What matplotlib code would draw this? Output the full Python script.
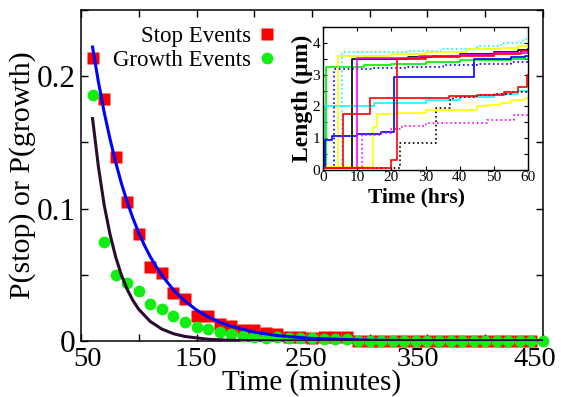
import matplotlib
matplotlib.use("Agg")
import matplotlib.pyplot as plt
from matplotlib.ticker import MultipleLocator, FixedLocator
from matplotlib.transforms import ScaledTranslation

plt.rcParams['font.family'] = ['Liberation Serif', 'DejaVu Serif']

# main panel: event probabilities, sampled every 10 minutes
stop_t = [60, 70, 80, 90, 100, 110, 120, 130, 140, 150, 160, 170, 180, 190, 200,
          210, 220, 230, 240, 250, 260, 270, 280, 290, 300, 310, 320, 330, 340,
          350, 360, 370, 380, 390, 400, 410, 420, 430, 440]
stop_p = [0.214, 0.183, 0.139, 0.105, 0.081, 0.056, 0.051, 0.036, 0.032, 0.019,
          0.019, 0.013, 0.011, 0.008, 0.008, 0.006, 0.005, 0.003, 0.003, 0.002,
          0.003, 0.003, 0.003, 0, 0, 0, 0, 0, 0, 0, 0, 0, 0, 0, 0, 0, 0, 0, 0]

grow_t = [60, 70, 80, 90, 100, 110, 120, 130, 140, 150, 160, 170, 180, 190, 200,
          210, 220, 230, 240, 250, 260, 270, 280, 290, 300, 310, 320, 330, 340,
          350, 360, 370, 380, 390, 400, 410, 420, 430, 440, 450]
grow_p = [0.186, 0.075, 0.050, 0.0435, 0.038, 0.028, 0.024, 0.019, 0.0146, 0.0103,
          0.0088, 0.007, 0.005, 0.0038, 0.0028, 0.0025, 0.003, 0.002, 0.002, 0.002,
          0.0018, 0.0015, 0.0012, 0, 0, 0, 0, 0, 0, 0, 0, 0, 0, 0, 0, 0, 0, 0, 0, 0]

# fitted curves
stop_fit_t = [60, 65, 70, 75, 80, 85, 90, 95, 100, 105, 110, 115, 120, 130, 140,
              150, 160, 170, 180, 200, 220, 250, 300, 350, 450]
stop_fit_p = [0.222, 0.196, 0.173, 0.153, 0.135, 0.119, 0.105, 0.0926, 0.0817,
              0.0721, 0.0636, 0.0562, 0.0496, 0.0386, 0.0301, 0.0234, 0.0182,
              0.0142, 0.0111, 0.0067, 0.0041, 0.0019, 0.0006, 0.0002, 0.0]

grow_fit_t = [60, 65, 70, 75, 80, 85, 90, 95, 100, 110, 120, 130, 140, 160, 180,
              220, 450]
grow_fit_p = [0.168, 0.132, 0.103, 0.081, 0.0635, 0.0497, 0.039, 0.0305, 0.0239,
              0.0147, 0.009, 0.0055, 0.0034, 0.0013, 0.0005, 0.0001, 0.0]

xtick_vals = [50, 150, 250, 350, 450]
ytick_vals = [0, 0.1, 0.2]
ytick_text = ['0', '0.1', '0.2']

# inset: individual length traces (hours, micrometres)
green_a = ([0, 1, 12, 20, 30, 40, 55, 60], [0.05, 3.25, 3.3, 3.35, 3.4, 3.45, 3.5, 3.5])
cyan_a = ([0, 0.3, 15, 30, 40, 50, 57, 60], [0.05, 2.02, 2.1, 2.2, 2.3, 2.4, 2.5, 2.5])
cyan_b = ([0, 5.7, 25, 35, 45, 52, 58.5, 60], [0.05, 3.72, 3.75, 3.8, 3.9, 4.0, 4.12, 4.12])
yellow_a = ([0, 4.4, 20, 30, 42, 52, 57, 60], [0.05, 3.6, 3.65, 3.7, 3.8, 3.85, 3.9, 3.9])
yellow_b = ([0, 14.5, 15.8, 21, 30, 45, 48, 52, 55, 59, 60],
            [0.08, 1.35, 1.75, 1.8, 1.88, 2.0, 2.05, 2.1, 2.2, 2.25, 2.25])
blue_a = ([0, 0.5, 2.5, 10, 17, 20.8, 44.3, 55, 59, 60],
          [0.05, 0.95, 1.08, 1.12, 1.2, 2.92, 3.5, 3.55, 3.6, 3.6])
blue_b = ([0, 3.1, 15, 25, 35, 45, 55, 60], [0.05, 3.18, 3.22, 3.25, 3.3, 3.35, 3.4, 3.4])
black_a = ([0, 8.5, 25, 32, 40, 50, 57, 60], [0.05, 3.5, 3.55, 3.6, 3.65, 3.7, 3.78, 3.8])
black_b = ([0, 22.6, 33, 37.3, 38, 45, 50, 55, 60],
           [0.05, 0.85, 1.95, 2.2, 2.3, 2.35, 2.4, 2.45, 2.5])
magenta_a = ([0, 9.8, 28, 40, 50, 60], [0.05, 3.52, 3.58, 3.62, 3.68, 3.72])
magenta_b = ([0, 11.3, 17, 20, 23, 30, 48, 56, 60],
             [0.05, 1.1, 1.15, 1.3, 1.4, 1.48, 1.56, 1.72, 1.72])
red_a = ([0, 5.8, 13.8, 37, 45, 53, 57, 59.7, 60],
         [0.05, 1.75, 2.27, 2.33, 2.37, 2.45, 2.6, 3.0, 3.0])
red_b = ([0, 20, 21.6, 30, 40, 50, 58, 60], [0.05, 0.3, 3.5, 3.55, 3.6, 3.65, 3.75, 3.75])

fig = plt.figure(figsize=(5.61, 3.97), dpi=100)
ax = fig.add_axes([0.1444, 0.1411, 0.8235, 0.8338])

ax.plot(stop_t, stop_p, 's', color='#ff0000', ms=8, mec='none', clip_on=False,
        zorder=3, label='Stop Events')
ax.plot(grow_t, grow_p, 'o', color='#11ee11', ms=8.5, mec='none', clip_on=False,
        zorder=4, label='Growth Events')
ax.plot(stop_fit_t, stop_fit_p, '-', color='#0000ff', lw=2.2, zorder=5)
ax.plot(grow_fit_t, grow_fit_p, '-', color='#2b0b30', lw=2.2, zorder=5)

ax.set_xlim(50, 450)
ax.set_ylim(0, 0.25)
ax.xaxis.set_major_locator(FixedLocator(xtick_vals))
ax.xaxis.set_minor_locator(FixedLocator([100, 200, 300, 400]))
ax.yaxis.set_major_locator(FixedLocator(ytick_vals))
ax.yaxis.set_minor_locator(FixedLocator([0.05, 0.15, 0.25]))
ax.set_yticklabels(ytick_text)
ax.tick_params(which='both', direction='in', top=True, right=True, length=5,
               width=1, pad=4)
ax.tick_params(axis='x', labelsize=20.5)
ax.tick_params(axis='y', labelsize=22.5)
for s in ax.spines.values():
    s.set_linewidth(1.1)

# the original tick labels sit a little off their ticks
fig.canvas.draw()
shifts = [7, -1, -6, -10, -8]
for lab, dx in zip(ax.get_xticklabels(), shifts):
    lab.set_transform(lab.get_transform() +
                      ScaledTranslation(dx / 100, 0, fig.dpi_scale_trans))

ax.set_xlabel('Time (minutes)', fontsize=21, labelpad=-2)
ax.set_ylabel('P(stop) or P(growth)', fontsize=21.5, labelpad=0)

ax.legend(loc='upper right', bbox_to_anchor=(0.491, 0.935),
          bbox_transform=fig.transFigure, frameon=False, markerfirst=False,
          fontsize=16.5, handlelength=0.75, handletextpad=0.3, borderpad=0,
          borderaxespad=0, labelspacing=0.12)

# inset
ins = fig.add_axes([0.5758, 0.5718, 0.3654, 0.3602])
traces = [
    (green_a, '#00ee00', '-'), (cyan_a, '#00ffff', '-'), (cyan_b, '#00ffff', ':'),
    (yellow_a, '#ffff00', '-'), (yellow_b, '#ffff00', '-'), (blue_a, '#0000ff', '-'),
    (blue_b, '#0000ff', ':'), (black_a, '#000000', '-'), (black_b, '#000000', ':'),
    (magenta_a, '#ff00ff', '-'), (magenta_b, '#ff00ff', ':'), (red_a, '#ff0000', '-'),
    (red_b, '#ff0000', '-'),
]
for (tt, ll), col, ls in traces:
    ins.plot(tt, ll, color=col, ls=ls, lw=1.2, drawstyle='steps-post')

ins.set_xlim(0, 60)
ins.set_ylim(0, 4.5)
ins.xaxis.set_major_locator(MultipleLocator(10))
ins.yaxis.set_major_locator(MultipleLocator(1))
ins.yaxis.set_minor_locator(MultipleLocator(0.5))
ins.tick_params(which='both', direction='in', top=True, right=True, length=3,
                width=0.8, labelsize=11, pad=1)
ins.tick_params(axis='y', pad=2)
for s in ins.spines.values():
    s.set_linewidth(1.0)
ins.set_xlabel('Time (hrs)', fontsize=15.5, fontweight='bold')
ins.xaxis.set_label_coords(0.456, -0.12)
ins.set_ylabel('Length (μm)', fontsize=17, fontweight='bold', labelpad=0)

fig.savefig('out.png', dpi=100)
